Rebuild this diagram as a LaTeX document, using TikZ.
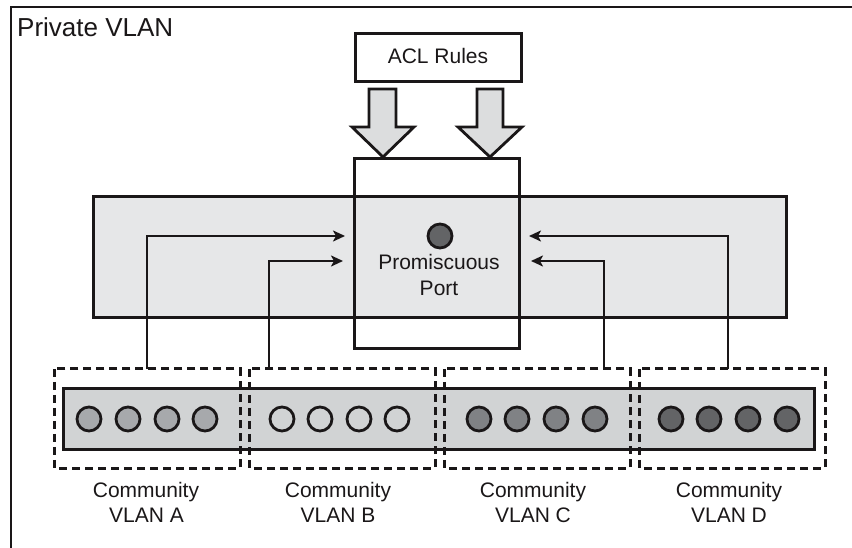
\documentclass[tikz,border=0pt]{standalone}
\usepackage{fontspec}
\setmainfont{Liberation Sans}
\usetikzlibrary{arrows.meta,calc}
\definecolor{ink}{HTML}{1A1718}
\definecolor{bandgray}{HTML}{E6E7E8}
\definecolor{stripgray}{HTML}{D1D3D4}
\definecolor{blockgray}{HTML}{DCDDDE}
\definecolor{portA}{HTML}{A7A9AC}
\definecolor{portB}{HTML}{D1D3D4}
\definecolor{portC}{HTML}{808285}
\definecolor{portD}{HTML}{636466}
\tikzset{
  box/.style={rectangle, inner sep=0pt},
  outline/.style={draw=ink, line width=2.8pt},
  dashline/.style={draw=ink, line width=2.8pt, dash pattern=on 8pt off 5pt},
  port/.style={draw=ink, line width=2.8pt, circle, inner sep=0pt, minimum size=24pt},
  lbl/.style={font=\fontsize{21}{25}\selectfont, text=ink, inner sep=0pt, anchor=base},
  conn/.style={draw=ink, line width=2.8pt, -{Stealth[length=12pt,width=11pt,inset=3pt]}},
  blockarrow/.style={draw=ink, line width=2.8pt, fill=blockgray, line join=miter},
}
\begin{document}
\begin{tikzpicture}[x=1pt,y=-1pt]
\useasboundingbox (0,0) rectangle (852,548);
\begin{scope}
  \clip (0,0) rectangle (852,548);
  \draw[ink, line width=2.6pt] (11,570) -- (11,7) -- (870,7);
\end{scope}
\node[lbl, anchor=base west, font=\fontsize{26}{30}\selectfont] (title) at (17,37) {Private VLAN};

% promiscuous box (white), band, box outline
\node[box, fill=white, minimum width=164pt, minimum height=189pt] (prom) at (437,253.5) {};
\node[box, fill=bandgray, minimum width=692pt, minimum height=120pt] (band) at (440,257) {};
\draw[outline] (band.north west) rectangle (band.south east);
\draw[outline] (prom.north west) rectangle (prom.south east);

% ACL rules and block arrows
\node[box, fill=white, minimum width=165pt, minimum height=47pt] (acl) at (438.5,57.5) {};
\draw[outline] (acl.north west) rectangle (acl.south east);
\node[lbl] (acltext) at (438,64) {ACL Rules};
\draw[blockarrow] (369,89) -- (396,89) -- (396,127) -- (414,127) -- (383,157) -- (352,127) -- (369,127) -- cycle;
\draw[blockarrow] (477,89) -- (503,89) -- (503,127) -- (522,127) -- (490,157) -- (458,127) -- (477,127) -- cycle;

% promiscuous port
\node[port, fill=portD] (pport) at (440,236) {};
\node[lbl] (promtext1) at (439,270) {Promiscuous};
\node[lbl] (promtext2) at (439,295) {Port};

% strip of community ports
\node[box, fill=stripgray, minimum width=750pt, minimum height=60pt] (strip) at (439,419) {};
\draw[outline] (strip.north west) rectangle (strip.south east);
\node[box, minimum width=185pt, minimum height=99pt] (va) at (147.5,418.5) {};
\node[box, minimum width=185pt, minimum height=99pt] (vb) at (342.5,418.5) {};
\node[box, minimum width=185pt, minimum height=99pt] (vc) at (537.5,418.5) {};
\node[box, minimum width=185pt, minimum height=99pt] (vd) at (732.5,418.5) {};
\foreach \v in {va,vb,vc,vd} {\draw[dashline] (\v.north west) rectangle (\v.south east);}

\foreach \i/\x in {1/89,2/128,3/167,4/205} {\node[port, fill=portA] (a\i) at (\x,419) {};}
\foreach \i/\x in {1/282,2/320,3/359,4/397} {\node[port, fill=portB] (b\i) at (\x,419) {};}
\foreach \i/\x in {1/479,2/517,3/556,4/595} {\node[port, fill=portC] (c\i) at (\x,419) {};}
\foreach \i/\x in {1/671,2/709,3/748,4/787} {\node[port, fill=portD] (d\i) at (\x,419) {};}

% labels
\node[lbl] (la1) at (146,497) {Community};
\node[lbl] (la2) at (146.5,522) {VLAN A};
\node[lbl] (lb1) at (338,497) {Community};
\node[lbl] (lb2) at (338,522) {VLAN B};
\node[lbl] (lc1) at (533,497) {Community};
\node[lbl] (lc2) at (533,522) {VLAN C};
\node[lbl] (ld1) at (729,497) {Community};
\node[lbl] (ld2) at (729,522) {VLAN D};

% connectors
\coordinate (sA) at (147,369);
\coordinate (sB) at (269,369);
\coordinate (sC) at (604,369);
\coordinate (sD) at (728,369);
\coordinate (tA) at (345,236);
\coordinate (tB) at (343,261);
\coordinate (tC) at (531,261);
\coordinate (tD) at (529,236);
\draw[conn] (sA) |- (tA);
\draw[conn] (sB) |- (tB);
\draw[conn] (sC) |- (tC);
\draw[conn] (sD) |- (tD);
\end{tikzpicture}
\end{document}
